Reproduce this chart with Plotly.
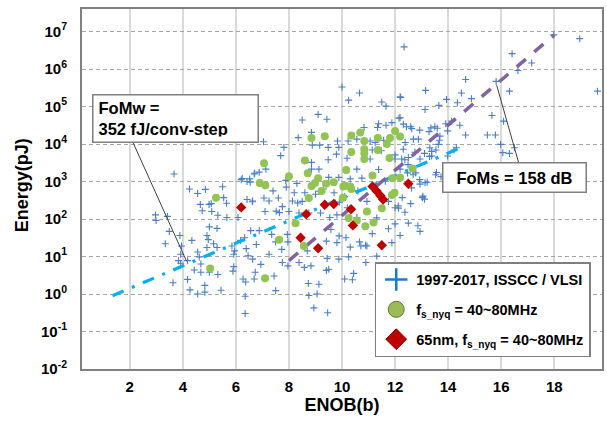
import plotly.graph_objects as go

# ---------------- data ----------------
enob_ticks = [2, 4, 6, 8, 10, 12, 14, 16, 18]
energy_ticks = [1e-2, 1e-1, 1e0, 1e1, 1e2, 1e3, 1e4, 1e5, 1e6, 1e7]
energy_tick_labels = ["10<sup>-2</sup>", "10<sup>-1</sup>", "10<sup>0</sup>", "10<sup>1</sup>",
                      "10<sup>2</sup>", "10<sup>3</sup>", "10<sup>4</sup>", "10<sup>5</sup>",
                      "10<sup>6</sup>", "10<sup>7</sup>"]

# 1997-2017 ISSCC / VLSI survey points: ENOB and log10(Energy in pJ)
cross_enob = [
    4.25, 4.56, 4.85, 5.5, 4.66, 4.99, 4.73, 5.09, 5.32, 5.66, 5.54, 5.65, 6.08, 6.42, 6.62,
    2.97, 2.99, 3.42, 3.49, 3.89, 3.34, 3.95, 4.34, 5.0, 5.29, 4.91, 4.96, 5.16, 5.29, 4.91,
    4.56, 4.62, 3.92, 3.84, 3.92, 4.18, 4.68, 4.43, 4.68, 5.0, 5.32, 4.18, 3.63, 4.27, 4.56,
    4.83, 4.83, 5.44, 5.85, 5.95, 5.92, 6.18, 6.33, 6.39, 6.46, 5.92, 5.89, 6.27, 6.37, 6.35,
    6.35, 6.73, 6.77,
    3.67, 6.24, 6.42, 6.52, 6.71, 6.2, 6.54,
    10.0, 10.66, 10.25, 11.5, 11.66, 12.19, 12.19, 8.5, 9.1, 9.43, 7.04, 7.81, 7.69, 8.35, 8.85,
    8.88, 9.16, 9.48, 9.83, 9.88, 10.23, 10.19, 10.83, 10.56, 11.06, 11.34, 11.66, 11.88, 12.31,
    12.63, 12.38, 12.69, 12.31, 11.25, 11.48, 11.06, 10.56, 9.79, 9.48, 9.13, 8.85, 8.85, 9.5,
    9.88, 10.31, 10.75, 6.88, 7.13, 6.69, 7.06, 7.88, 12.25, 12.5, 12.75, 12.94, 12.88, 12.0,
    12.19,
    6.63, 7.06, 7.25, 7.6, 7.75, 8.13, 8.5, 9.0, 8.38, 8.75, 9.19, 9.54, 9.81, 10.56, 10.94,
    11.31, 11.75, 12.13, 12.5, 12.94, 6.56, 6.88, 7.35, 7.94, 7.5, 7.73, 7.96, 8.69, 9.41, 9.81,
    10.31, 10.66, 10.94, 11.88, 11.31, 6.63, 6.94, 7.75, 7.96, 8.38, 9.44, 9.88, 10.25, 9.5,
    10.44, 10.1, 7.44, 6.69, 7.5, 8.73, 9.13, 9.06, 8.75, 9.41, 8.94, 9.46, 7.25,
    13.11, 13.54, 13.67, 14.22, 12.68, 12.93, 12.62, 13.05, 13.11, 12.12, 12.37, 12.86, 12.0,
    11.75, 11.14, 12.19, 10.89,
    17.98, 18.96, 16.41, 17.15, 16.63, 15.81, 16.31, 19.63, 14.66, 13.15, 14.5, 13.94, 14.35,
    14.88, 13.65, 13.13, 15.65, 16.09, 14.13, 14.44, 13.5, 13.35, 14.66, 15.48, 15.78, 13.98,
    13.69, 13.63, 13.31, 14.31, 15.98, 16.06, 16.31, 16.5, 13.98, 13.38, 13.56, 13.73, 13.13,
    12.94,
    12.34, 12.21, 12.15, 12.59, 13.28, 13.59, 13.38, 13.3, 12.78, 12.47, 13.53, 13.21, 13.03,
    12.59, 12.27, 12.0,
    11.38, 12.43, 12.93, 13.91, 11.14, 11.57, 12.0, 12.37, 12.49, 11.38, 11.63,
    7.4, 7.9, 8.3, 8.6, 9.3, 9.7, 10.1, 10.6, 10.2, 9.9, 8.0, 7.1,
    5.07, 7.52, 7.64, 8.33, 8.2, 9.14, 9.58, 9.89, 10.15, 10.71, 8.58, 8.83, 10.39, 10.9,
]
cross_log_energy = [
    2.8, 2.68, 2.79, 2.86, 2.39, 2.39, 2.22, 2.2, 2.1, 2.04, 2.57, 2.42, 2.04, 2.52, 2.46,
    2.11, 1.96, 2.07, 1.67, 1.56, 1.34, 1.28, 1.43, 1.79, 1.75, 1.56, 1.45, 1.34, 1.24, 1.24,
    1.12, 0.99, 1.06, 0.89, 0.82, 0.89, 0.8, 0.64, 0.58, 0.58, 0.52, 0.39, 0.3, 0.11, 0.0,
    0.05, 0.23, 0.1, 1.28, 1.15, 1.06, 1.43, 1.5, 1.21, 1.02, 0.73, 0.61, 0.4, 0.32, -0.06,
    -0.52, 0.58, 1.32,
    3.2, 3.08, 3.0, 3.07, 3.22, 3.05, 2.98,
    5.52, 5.36, 5.17, 5.12, 5.01, 5.26, 4.7, 4.64, 4.79, 4.66, 4.06, 3.91, 3.69, 4.17, 4.31,
    3.97, 3.97, 3.91, 4.08, 3.91, 4.08, 3.62, 4.44, 4.13, 4.08, 4.44, 4.5, 4.57, 4.53,
    4.41, 4.04, 4.13, 3.86, 4.04, 3.82, 3.6, 3.33, 3.73, 3.58, 3.33, 3.33, 3.51, 3.11,
    3.11, 3.07, 3.09, 3.25, 3.33, 3.2, 2.89, 3.03, 3.6, 3.64, 3.78, 3.6, 4.13, 3.6,
    3.33,
    2.48, 2.56, 2.48, 2.56, 2.33, 2.48, 2.47, 2.66, 2.16, 2.16, 2.16, 2.04, 2.11, 2.04, 2.47,
    2.03, 2.47, 2.29, 1.89, 1.67, 1.69, 1.69, 1.59, 1.59, 1.39, 1.19, 1.39, 1.15, 1.41, 1.37,
    1.25, 1.39, 1.28, 1.37, 1.01, 0.93, 0.79, 0.84, 0.75, 0.84, 0.95, 0.93, 0.99, 0.66,
    0.55, 0.4, 0.48, 0.4, 0.09, 0.28, 0.26, 0.0, -0.04, 0.63, -0.37, -0.5, 1.06,
    3.75, 3.84, 4.1, 3.84, 3.18, 3.05, 2.83, 2.61, 2.53, 2.35, 2.18, 1.82, 1.87,
    1.74, 1.61, 1.56, 1.3,
    6.91, 6.81, 6.41, 6.16, 5.96, 5.67, 5.41, 5.41, 5.72, 5.43, 5.36, 5.19, 5.1,
    5.21, 5.03, 4.92, 4.76, 4.61, 4.61, 4.5, 4.46, 4.43, 4.24, 4.24, 4.24, 4.35,
    4.21, 3.99, 3.9, 3.9, 3.99, 3.77, 3.75, 3.9, 3.68, 3.68, 3.24, 3.13, 2.97,
    2.93,
    6.59, 5.24, 4.69, 4.46, 4.33, 4.42, 3.8, 3.67, 3.23, 3.23, 3.18, 2.98, 2.57,
    2.41, 2.57, 2.3,
    4.54, 4.46, 4.37, 4.54, 3.84, 4.1, 3.71, 3.58, 3.45, 3.32, 3.01,
    2.75, 2.85, 2.95, 2.7, 2.8, 2.7, 2.6, 2.75, 2.3, 2.45, 2.2, 2.2,
    2.41, 2.21, 2.17, 2.43, 2.7, 2.74, 1.72, 1.55, 1.5, 1.28, 0.71, 0.75, 0.38, 0.84,
]

# f_s_nyq = 40~80 MHz designs
green_enob = [
    5.25, 5.03, 7.11,
    8.85, 9.35, 10.35, 10.69, 10.84, 11.35, 11.81, 12.0, 12.19, 11.69, 10.35, 10.84, 10.84,
    10.84, 11.35, 11.79, 7.06, 8.6, 8.0, 8.71, 9.1, 10.16, 11.15, 11.9, 12.19, 12.66, 6.9,
    8.85, 9.4, 9.69, 10.13, 10.31,
    8.25, 7.63, 8.56, 10.56, 10.88, 11.19, 10.94, 10.25, 7.1, 11.5, 11.88, 8.75, 9.23, 10.03,
    10.35, 11.98, 8.98, 10.05,
]
green_log_energy = [
    2.57, 0.68, 2.9,
    4.16, 4.21, 4.23, 4.31, 4.08, 4.16, 4.16, 4.35, 4.2, 4.0, 3.79, 3.86, 3.75,
    3.6, 3.84, 3.63, 3.49, 3.56, 3.14, 3.22, 3.09, 3.31, 3.16, 3.09, 3.11, 3.35, 2.96,
    2.88, 2.94, 2.98, 2.89, 2.87,
    1.89, 1.45, 1.28, 1.96, 1.81, 1.91, 2.2, 2.03, 0.42, 2.29, 2.64, 2.56, 2.75, 2.57,
    2.8, 2.7, 2.96, 2.87,
]

# 65nm, f_s_nyq = 40~80 MHz designs
red_enob = [6.2, 8.44, 8.65, 9.1, 9.35, 9.69, 10.34, 10.41, 11.15, 11.3, 11.45, 11.55, 11.5, 12.5]
red_log_energy = [2.31, 1.5, 2.13, 1.22, 2.38, 2.4, 2.26, 1.83, 2.87, 2.75, 2.62, 2.52, 1.3, 2.94]

# figure-of-merit reference lines (end points)
fomw_enob = [1.35, 14.35]
fomw_energy = [0.9, 7300]
foms_enob = [8.0, 18.0]
foms_energy = [7.8, 8.1e6]

# annotation leader lines (box edge -> line)
fomw_leader_enob = [2.11, 4.14]
fomw_leader_energy = [11500, 7.5]
foms_leader_enob = [16.66, 15.83]
foms_leader_energy = [3160, 3.7e5]

legend_names = ["1997-2017, ISSCC / VLSI",
                "f<sub>s_nyq</sub> = 40~80MHz",
                "65nm, f<sub>s_nyq</sub> = 40~80MHz"]

cross_energy = [10 ** v for v in cross_log_energy]
green_energy = [10 ** v for v in green_log_energy]
red_energy = [10 ** v for v in red_log_energy]

FONT = "Liberation Sans, Arial, sans-serif"

fig = go.Figure()

fig.add_trace(go.Scatter(
    x=cross_enob, y=cross_energy, mode="markers", showlegend=False,
    marker=dict(symbol="cross-thin", size=5, line=dict(color="#4A7FC4", width=1.1))))

fig.add_trace(go.Scatter(
    x=fomw_enob, y=fomw_energy, mode="lines", showlegend=False,
    line=dict(color="#00B0F0", width=3.2, dash="12px,9px,3px,9px")))
fig.add_trace(go.Scatter(
    x=foms_enob, y=foms_energy, mode="lines", showlegend=False,
    line=dict(color="#8064A2", width=3.5, dash="12px,11px")))

fig.add_trace(go.Scatter(
    x=green_enob, y=green_energy, mode="markers", showlegend=False,
    marker=dict(symbol="circle", size=8, color="#92C454", line=dict(width=0))))
fig.add_trace(go.Scatter(
    x=red_enob, y=red_energy, mode="markers", showlegend=False,
    marker=dict(symbol="diamond", size=8, color="#C00000", line=dict(width=0))))

for xs, ys in [(fomw_leader_enob, fomw_leader_energy), (foms_leader_enob, foms_leader_energy)]:
    fig.add_trace(go.Scatter(x=xs, y=ys, mode="lines", showlegend=False, hoverinfo="skip",
                             line=dict(color="#404040", width=1)))

# legend-only entries
fig.add_trace(go.Scatter(x=[None], y=[None], mode="markers", name=legend_names[0], legendgroup="a",
                         marker=dict(symbol="cross-thin", size=16, line=dict(color="#1F7AC8", width=2.5))))
fig.add_trace(go.Scatter(x=[None], y=[None], mode="markers", name=legend_names[1], legendgroup="b",
                         marker=dict(symbol="circle", size=16, color="#9BBB59",
                                     line=dict(color="#5E7A2C", width=1))))
fig.add_trace(go.Scatter(x=[None], y=[None], mode="markers", name=legend_names[2], legendgroup="c",
                         marker=dict(symbol="diamond", size=16, color="#C00000",
                                     line=dict(color="#8B0000", width=1))))

fig.update_layout(
    width=607, height=425,
    margin=dict(l=82, r=3, t=9, b=56),
    paper_bgcolor="white", plot_bgcolor="white",
    font=dict(family=FONT, color="black"),
    showlegend=True,
    legend=dict(x=0.563, y=0.297, xanchor="left", yanchor="top",
                bgcolor="white", bordercolor="#7F7F7F", borderwidth=1.5,
                font=dict(family=FONT, size=14.5, weight="bold", color="black"),
                tracegroupgap=8, traceorder="grouped"),
    xaxis=dict(range=[0.2, 19.8], tickmode="array", tickvals=enob_ticks,
               showgrid=True, gridcolor="#D9D9D9", gridwidth=1.5,
               zeroline=False, showline=True, linecolor="#808080", linewidth=2, mirror=True,
               ticks="", ticklabelstandoff=3,
               tickfont=dict(family=FONT, size=15, weight="bold"),
               title=dict(text="ENOB(b)", standoff=4,
                          font=dict(family=FONT, size=18, weight="bold"))),
    yaxis=dict(type="log", range=[-2, 7.6], tickmode="array", tickvals=energy_ticks,
               ticktext=energy_tick_labels,
               showgrid=True, gridcolor="#A6A6A6", gridwidth=1.2, griddash="4px,3px",
               zeroline=False, showline=True, linecolor="#808080", linewidth=2, mirror=True,
               ticks="", ticklabelstandoff=10,
               tickfont=dict(family=FONT, size=15, weight="bold")),
    annotations=[
        dict(xref="paper", yref="paper", x=-0.115, y=0.511, xanchor="center", yanchor="middle",
             text="Energy(pJ)", textangle=-90, showarrow=False,
             font=dict(family=FONT, size=18, weight="bold", color="black")),
        dict(xref="paper", yref="paper", x=0.0192, y=0.764, xanchor="left", yanchor="top",
             text="FoMw =<br>352 fJ/conv-step", showarrow=False, align="left",
             width=154, height=36, borderpad=5,
             bgcolor="white", bordercolor="#7F7F7F", borderwidth=1.5,
             font=dict(family=FONT, size=16.5, weight="bold", color="black")),
        dict(xref="paper", yref="paper", x=0.832, y=0.5306, xanchor="center", yanchor="middle",
             text="FoMs = 158 dB", showarrow=False, align="center",
             width=134, height=20, borderpad=4,
             bgcolor="white", bordercolor="#7F7F7F", borderwidth=1.5,
             font=dict(family=FONT, size=16.5, weight="bold", color="black")),
    ],
)

fig.write_html("out.html")
